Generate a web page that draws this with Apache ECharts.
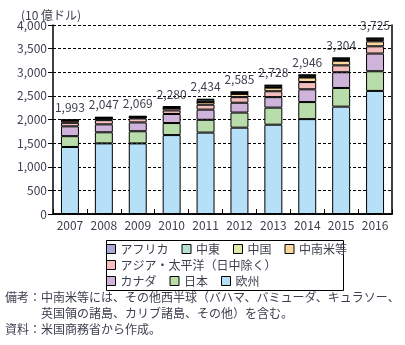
<!DOCTYPE html>
<html><head><meta charset="utf-8">
<script src="https://cdn.jsdelivr.net/npm/echarts@6/dist/echarts.min.js"></script>
<style>html,body{margin:0;padding:0;background:#fff}#c{width:405px;height:345px}</style>
</head><body><div id="c"></div>
<script>
const years = ['2007','2008','2009','2010','2011','2012','2013','2014','2015','2016'];
const europe   = [1418,1495,1494,1670,1723,1827,1890,2008,2272,2605];
const japan    = [ 229, 234, 257, 255, 271, 320, 361, 361, 395, 416];
const canada   = [ 208, 168, 187, 192, 215, 208, 222, 270, 333, 375];
const asiaPac  = [  75,  90,  84,  75, 104, 118, 125, 153, 146, 153];
const latAm    = [  45,  40,  20,  50,  56,  69,  76,  97,  97, 104];
const china    = [   1,   1,   2,   3,   5,   8,  10,  12,  15,  27];
const mideast  = [  14,  17,  20,  25,  45,  30,  37,  38,  40,  38];
const africa   = [   3,   2,   5,  10,  15,   5,   7,   7,   6,   7];
const totals   = [1993,2047,2069,2280,2434,2585,2728,2946,3304,3725];
const yTicks   = [0,500,1000,1500,2000,2500,3000,3500,4000];

const FONT = 'Noto Sans CJK JP';
const TXT = '#3c3f4e';
const seriesDefs = [
  ['欧州', europe, '#b5e0f7'],
  ['日本', japan, '#b9dcab'],
  ['カナダ', canada, '#d0b3da'],
  ['アジア・太平洋（日中除く）', asiaPac, '#f3bebd'],
  ['中南米等', latAm, '#f9d79d'],
  ['中国', china, '#dcebaa'],
  ['中東', mideast, '#b6e0d6'],
  ['アフリカ', africa, '#aaaad6']
];
const series = seriesDefs.map(([name, data, color], i) => ({
  name, type: 'bar', stack: 'all', data, barWidth: '53%',
  itemStyle: { color, borderColor: '#000', borderWidth: 1 },
  label: i === seriesDefs.length - 1 ? {
    show: true, position: 'top', distance: 6,
    formatter: p => totals[p.dataIndex].toLocaleString('en-US'),
    color: TXT, fontSize: 12, fontFamily: FONT
  } : { show: false }
}));

const legendBase = {
  orient: 'horizontal', itemWidth: 9, itemHeight: 9, icon: 'rect',
  itemGap: 13, padding: 0,
  textStyle: { color: TXT, fontSize: 12, fontFamily: FONT },
  itemStyle: { borderColor: '#000', borderWidth: 1 },
  selectedMode: false
};

const chart = echarts.init(document.getElementById('c'), null, { renderer: 'canvas' });
chart.setOption({
  animation: false,
  textStyle: { fontFamily: FONT },
  grid: { left: 53, right: 13, top: 25, bottom: 131 },
  title: { text: '(10 億ドル)', left: 16, top: 4, textStyle: { fontSize: 12, fontWeight: 'normal', color: TXT, fontFamily: FONT } },
  xAxis: [{
    type: 'category', data: years,
    axisLine: { lineStyle: { color: '#000', width: 1.5 } },
    axisTick: { show: true, inside: true, length: 5, lineStyle: { color: '#000' } },
    axisLabel: { color: TXT, fontSize: 12, margin: 5, fontFamily: FONT, interval: 0 }
  }, {
    type: 'category', data: years, position: 'top',
    axisLine: { show: true, lineStyle: { color: '#000', width: 1.5 } },
    axisTick: { show: false }, axisLabel: { show: false }
  }],
  yAxis: [{
    type: 'value', min: yTicks[0], max: yTicks[yTicks.length-1], interval: 500,
    axisLine: { show: true, lineStyle: { color: '#000', width: 1.5 } },
    axisTick: { show: true, length: 5, lineStyle: { color: '#000' } },
    axisLabel: { color: TXT, fontSize: 12, margin: 6, fontFamily: FONT,
      formatter: v => v.toLocaleString('en-US') },
    splitLine: { show: true, lineStyle: { color: '#000', type: [3, 2], width: 1 } }
  }, {
    type: 'value', min: 0, max: 4000, interval: 500, position: 'right',
    axisLine: { show: true, lineStyle: { color: '#000', width: 1.5 } },
    axisTick: { show: false }, axisLabel: { show: false }, splitLine: { show: false }
  }],
  legend: [
    Object.assign({}, legendBase, { left: 106, top: 243, data: ['アフリカ','中東','中国','中南米等'] }),
    Object.assign({}, legendBase, { left: 106, top: 259, data: ['アジア・太平洋（日中除く）'] }),
    Object.assign({}, legendBase, { left: 106, top: 275, data: ['カナダ','日本','欧州'] })
  ],
  graphic: [
    { type: 'rect', left: 104, top: 238, shape: { width: 237, height: 50 },
      style: { fill: 'none', stroke: '#000', lineWidth: 1 } },
    { type: 'text', left: 5, top: 291, style: { text: '備考：中南米等には、その他西半球（バハマ、バミューダ、キュラソー、', fill: TXT, font: '12px "Noto Sans CJK JP"' } },
    { type: 'text', left: 41, top: 307, style: { text: '英国領の諸島、カリブ諸島、その他）を含む。', fill: TXT, font: '12px "Noto Sans CJK JP"' } },
    { type: 'text', left: 5, top: 323, style: { text: '資料：米国商務省から作成。', fill: TXT, font: '12px "Noto Sans CJK JP"' } }
  ],
  series
});
</script></body></html>
